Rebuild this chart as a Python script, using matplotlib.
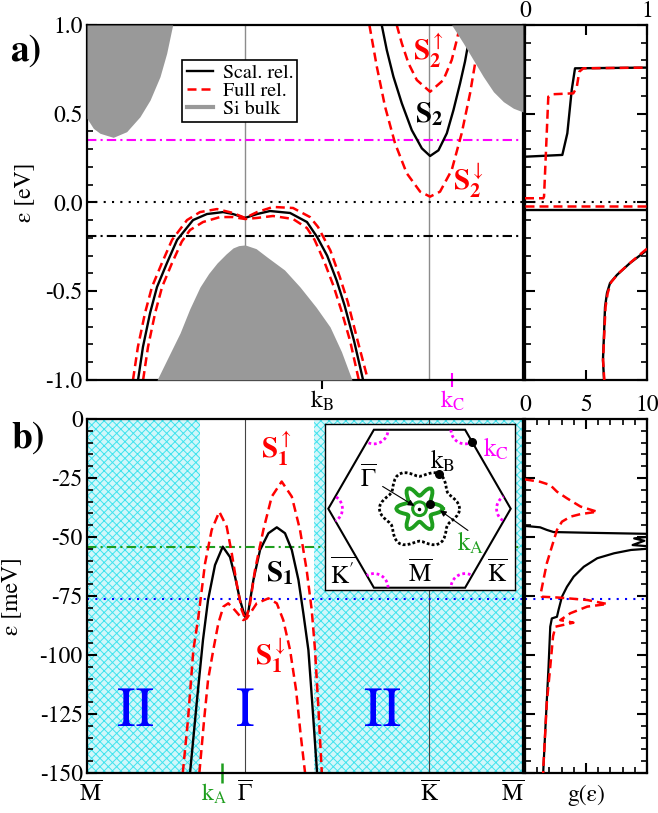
import numpy as np
import matplotlib
matplotlib.use('Agg')
import matplotlib.pyplot as plt
from matplotlib.patches import Polygon, Circle
from matplotlib.lines import Line2D
from matplotlib.ticker import MultipleLocator, FuncFormatter
from matplotlib.transforms import ScaledTranslation

plt.rcParams['font.family'] = ['STIXGeneral', 'DejaVu Serif']
plt.rcParams['mathtext.fontset'] = 'stix'
plt.rcParams['hatch.linewidth'] = 0.7
plt.rcParams['axes.linewidth'] = 1.6

# ---------------- k path ----------------
kpath_pos = [0.0, 1.0, 2.166, 2.759]
kpath_lab = [r'$\overline{\mathrm{M}}$', r'$\overline{\Gamma}$',
             r'$\overline{\mathrm{K}}$', r'$\overline{\mathrm{M}}$']
kA_pos, kB_pos, kC_pos = 0.854, 1.487, 2.31

# ---------------- panel a : bands (eV) ----------------
xa_vb_s = [0.323, 0.354, 0.399, 0.443, 0.506, 0.570, 0.671, 0.759, 0.861, 0.924, 1.0,
           1.076, 1.158, 1.285, 1.392, 1.456, 1.52, 1.58, 1.63, 1.69, 1.747]
ya_vb_s = [-1.0, -0.814, -0.623, -0.476, -0.341, -0.211, -0.099, -0.065, -0.054, -0.065, -0.087,
           -0.065, -0.048, -0.059, -0.110, -0.194, -0.30, -0.44, -0.58, -0.78, -1.0]
xa_vb_up = [0.291, 0.322, 0.367, 0.411, 0.474, 0.538, 0.633, 0.715, 0.823, 0.924, 1.0,
            1.076, 1.177, 1.304, 1.411, 1.462, 1.54, 1.60, 1.65, 1.71, 1.778]
ya_vb_up = [-1.0, -0.814, -0.623, -0.476, -0.341, -0.211, -0.099, -0.054, -0.037, -0.059, -0.087,
            -0.054, -0.025, -0.031, -0.082, -0.138, -0.27, -0.42, -0.56, -0.77, -1.0]
xa_vb_dn = [0.355, 0.386, 0.431, 0.475, 0.538, 0.600, 0.652, 0.734, 0.842, 0.924, 1.0,
            1.076, 1.177, 1.304, 1.392, 1.44, 1.50, 1.56, 1.61, 1.665, 1.72]
ya_vb_dn = [-1.0, -0.814, -0.623, -0.476, -0.341, -0.22, -0.155, -0.110, -0.082, -0.082, -0.093,
            -0.087, -0.076, -0.093, -0.144, -0.21, -0.33, -0.47, -0.61, -0.78, -1.0]

xa_s2 = [1.865, 1.897, 1.939, 1.992, 2.055, 2.119, 2.171, 2.224, 2.277, 2.319, 2.361, 2.392, 2.413, 2.43]
ya_s2 = [1.0, 0.859, 0.709, 0.559, 0.408, 0.305, 0.262, 0.294, 0.390, 0.521, 0.672, 0.794, 0.897, 1.0]
xa_s2up = [1.960, 1.992, 2.034, 2.087, 2.171, 2.255, 2.308, 2.340, 2.361]
ya_s2up = [1.0, 0.897, 0.785, 0.690, 0.624, 0.690, 0.803, 0.915, 1.0]
xa_s2dn = [1.787, 1.834, 1.886, 1.949, 2.023, 2.108, 2.171, 2.234, 2.308, 2.371, 2.424, 2.456, 2.48]
ya_s2dn = [1.0, 0.765, 0.540, 0.334, 0.165, 0.061, 0.033, 0.061, 0.183, 0.390, 0.615, 0.784, 0.92]

# Si bulk projected bands
xa_gc1 = [0.0, 0.040, 0.082, 0.166, 0.251, 0.335, 0.399, 0.462, 0.504, 0.542]
ya_gc1 = [0.474, 0.418, 0.390, 0.367, 0.399, 0.483, 0.577, 0.709, 0.840, 1.0]
xa_gc2 = [2.308, 2.382, 2.445, 2.508, 2.572, 2.635, 2.698, 2.759]
ya_gc2 = [1.0, 0.897, 0.803, 0.709, 0.624, 0.568, 0.531, 0.51]
xa_gv = [0.443, 0.52, 0.589, 0.65, 0.715, 0.77, 0.823, 0.88, 0.924, 0.96, 1.0,
         1.07, 1.139, 1.25, 1.348, 1.45, 1.538, 1.61, 1.677]
ya_gv = [-1.0, -0.86, -0.735, -0.60, -0.476, -0.40, -0.341, -0.29, -0.256, -0.243, -0.239,
         -0.26, -0.307, -0.38, -0.476, -0.59, -0.701, -0.84, -1.0]

ea_magenta, ea_zero, ea_dashdot = 0.352, 0.0, -0.189

# panel a DOS
da_s_cb_g = [0, 0.306, 0.347, 0.383, 0.410, 1.0]
da_s_cb_e = [0.258, 0.268, 0.390, 0.634, 0.756, 0.760]
da_f_cb_g = [0, 0.150, 0.156, 0.191, 0.232, 0.396, 0.424, 0.445, 0.478, 1.0]
da_f_cb_e = [0.024, 0.024, 0.033, 0.596, 0.610, 0.615, 0.649, 0.737, 0.756, 0.760]
da_s_vbm_g = [0, 1.0]
da_s_vbm_e = [-0.042, -0.042]
da_f_vbm_g = [0, 1.0]
da_f_vbm_e = [-0.022, -0.022]
da_s_vb_g = [1.0, 0.861, 0.754, 0.697, 0.672, 0.656, 0.648, 0.639, 0.648]
da_s_vb_e = [-0.268, -0.341, -0.408, -0.454, -0.51, -0.589, -0.735, -0.887, -1.0]
da_f_vb_g = [1.0, 0.87, 0.765, 0.705, 0.678, 0.66, 0.65, 0.64, 0.65]
da_f_vb_e = [-0.26, -0.335, -0.40, -0.45, -0.51, -0.589, -0.735, -0.887, -1.0]

# ---------------- panel b : bands (meV) ----------------
xb_s1 = [0.652, 0.696, 0.734, 0.766, 0.810, 0.859, 0.905, 0.937, 0.968, 1.0, 1.021, 1.053,
         1.095, 1.148, 1.201, 1.253, 1.296, 1.338, 1.369, 1.401, 1.424, 1.456]
yb_s1 = [-150, -119.1, -93.6, -76.7, -61.9, -54.1, -58.5, -66.9, -76.7, -83.8, -81.6, -68.2,
         -55.5, -48.4, -45.9, -48.4, -55.5, -68.2, -82.3, -97.9, -119.1, -150]
xb_s1up = [0.606, 0.639, 0.673, 0.705, 0.747, 0.789, 0.837, 0.884, 0.916, 0.947, 0.979, 1.004,
           1.032, 1.063, 1.116, 1.169, 1.232, 1.296, 1.348, 1.390, 1.422, 1.443, 1.465, 1.486]
yb_s1up = [-150, -127.5, -97.9, -83.8, -61.2, -47.0, -39.3, -45.6, -56.9, -69.6, -80.9, -85.2,
           -78.1, -64.0, -47.0, -32.9, -26.5, -32.9, -47.0, -64.0, -80.9, -97.9, -123.3, -150]
xb_s1dn = [0.711, 0.741, 0.766, 0.799, 0.831, 0.863, 0.894, 0.937, 0.989, 1.011, 1.074, 1.148,
           1.201, 1.242, 1.285, 1.323, 1.351, 1.380]
yb_s1dn = [-150, -127.5, -110.6, -97.9, -86.6, -79.5, -78.1, -81.1, -85.2, -84.5, -78.1, -76.0,
           -78.1, -85.2, -97.9, -114.8, -133.1, -150]
region_II = [(0.0, 0.715), (1.438, 2.759)]
eb_green, eb_blue = -54.2, -76.3

# panel b DOS
db_s_g = [0, 1.24, 1.79, 2.34, 5.10, 10.5, 10.5, 8.95, 9.78, 8.82, 10.5, 10.5, 8.68, 7.30, 5.92,
          4.82, 3.99, 3.44, 3.03, 2.75, 2.62, 2.20, 2.07, 1.93, 1.65, 1.49]
db_s_e = [-45.3, -45.9, -47.0, -47.9, -48.2, -48.7, -49.6, -50.6, -51.6, -53.4, -54.1, -54.8, -55.5,
          -56.9, -59.0, -62.6, -66.8, -71.1, -75.3, -80.9, -83.8, -84.5, -88.0, -104.9, -133.2, -150]
db_f_g = [0, 1.24, 2.07, 2.62, 3.44, 4.55, 5.92, 4.55, 3.72, 3.03, 2.62, 2.20, 1.79, 1.51, 1.29,
          1.38, 2.89, 5.10, 6.75, 5.10, 3.72, 2.89, 3.97, 2.5, 2.3, 2.07, 1.79, 1.51, 1.49]
db_f_e = [-25.6, -26.6, -28.0, -30.8, -33.6, -37.1, -39.3, -40.3, -41.4, -43.5, -47.0, -54.1, -61.1,
          -68.2, -73.9, -75.3, -75.7, -76.7, -78.4, -79.5, -82.3, -85.2, -86.3, -88, -92, -105, -120,
          -147, -150]

# ---------------- inset (surface BZ) ----------------
hex_R = 1.0
kb_r_sector = [0.44, 0.435, 0.42, 0.40, 0.38, 0.362, 0.355]     # 0..30 deg, step 5
ka_r_sector = [0.255, 0.245, 0.22, 0.19, 0.165, 0.148, 0.142]   # 0..30 deg, step 5
ka_circle_r = 0.075
kc_arc_r = 0.155
dot_kA = (0.11, 0.055)
dot_kB = (0.219, 0.376)
dot_kC = (0.574, 0.731)

# ---------------- colours ----------------
RED = '#ff0000'
MAG = '#ff00ff'
GRN = '#1e9e1e'
BLU = '#0000ff'
CYN = '#3fe3ee'
CYN_BG = '#d2f7fa'
GRAY = '#999999'

W, H = 658, 813
fig = plt.figure(figsize=(W / 100, H / 100), dpi=100)


def frect(l, t, r, b):
    return [l / W, 1 - b / H, (r - l) / W, (b - t) / H]


ax_a = fig.add_axes(frect(87, 25, 523, 380))
ax_da = fig.add_axes(frect(525, 25, 647, 380))
ax_b = fig.add_axes(frect(87, 419, 523, 773))
ax_db = fig.add_axes(frect(525, 419, 647, 773))

TFS = 17
dash_red = (0, (3.6, 2.0))
dashdot = (0, (4.5, 2.0, 1.0, 2.0))
dotted = (0, (1, 3))

fmt1 = FuncFormatter(lambda v, p: '0.0' if abs(v) < 1e-9 else f'{v:.1f}')
fmt0 = FuncFormatter(lambda v, p: '0' if abs(v) < 1e-9 else f'{v:.0f}')

# ===== panel a main =====
ax = ax_a
ax.set_xlim(kpath_pos[0], kpath_pos[-1])
ax.set_ylim(-1, 1)
for xv in kpath_pos[1:3]:
    ax.axvline(xv, color='#8c8c8c', lw=1.0, zorder=1)
ax.axhline(ea_magenta, color=MAG, lw=1.5, ls=dashdot, zorder=1)
ax.axhline(ea_zero, color='k', lw=1.5, ls=dotted, zorder=1)
ax.axhline(ea_dashdot, color='k', lw=1.5, ls=dashdot, zorder=1)
ax.plot(xa_vb_s, ya_vb_s, color='k', lw=1.7, zorder=2)
ax.plot(xa_vb_up, ya_vb_up, color=RED, lw=1.8, ls=dash_red, zorder=2)
ax.plot(xa_vb_dn, ya_vb_dn, color=RED, lw=1.8, ls=dash_red, zorder=2)
ax.plot(xa_s2, ya_s2, color='k', lw=1.7, zorder=2)
ax.plot(xa_s2up, ya_s2up, color=RED, lw=1.8, ls=dash_red, zorder=2)
ax.plot(xa_s2dn, ya_s2dn, color=RED, lw=1.8, ls=dash_red, zorder=2)
ax.fill_between(xa_gc1, ya_gc1, 1.0, color=GRAY, lw=0, zorder=3)
ax.fill_between(xa_gc2, ya_gc2, 1.0, color=GRAY, lw=0, zorder=3)
ax.fill_between(xa_gv, -1.0, ya_gv, color=GRAY, lw=0, zorder=3)

ax.yaxis.set_major_locator(MultipleLocator(0.5))
ax.yaxis.set_minor_locator(MultipleLocator(0.1))
ax.yaxis.set_major_formatter(fmt1)
ax.tick_params(axis='y', which='major', direction='in', length=7, width=1.5, labelsize=TFS, pad=3)
ax.tick_params(axis='y', which='minor', direction='in', length=4, width=1.2)
ax.set_xticks([kB_pos, kC_pos])
ax.set_xticklabels([r'$\mathrm{k_B}$', r'$\mathrm{k_C}$'])
ax.tick_params(axis='x', which='major', direction='inout', length=13, width=1.5, labelsize=TFS, pad=0)
xt = ax.xaxis.get_major_ticks()
xt[1].tick1line.set_markeredgecolor(MAG)
xt[1].tick1line.set_markersize(10)
ax.get_xticklabels()[1].set_color(MAG)
ax.set_ylabel('ε [eV]', fontsize=TFS)
ax.yaxis.set_label_coords(-0.118, 0.53)

SFS = 21
ax.text(2.158, 0.855, r'$\mathbf{S}_\mathbf{2}^{\uparrow}$', color=RED, fontsize=SFS,
        ha='center', va='center', zorder=5)
ax.text(2.165, 0.50, r'$\mathbf{S}_\mathbf{2}$', color='k', fontsize=SFS,
        ha='center', va='center', zorder=5)
ax.text(2.411, 0.125, r'$\mathbf{S}_\mathbf{2}^{\downarrow}$', color=RED, fontsize=SFS,
        ha='center', va='center', zorder=5)

handles = [Line2D([], [], color='k', lw=1.7),
           Line2D([], [], color=RED, lw=1.8, ls=dash_red),
           Line2D([], [], color=GRAY, lw=3)]
leg = ax.legend(handles, ['Scal. rel.', 'Full rel.', 'Si bulk'], loc='upper left',
                bbox_to_anchor=(0.219, 0.901), fontsize=14.5, frameon=True, fancybox=False,
                edgecolor='k', framealpha=1, handlelength=1.3, handletextpad=0.5,
                borderpad=0.2, labelspacing=0.0, borderaxespad=0)
leg.get_frame().set_linewidth(1.2)
leg.set_zorder(6)

# ===== panel a DOS =====
ax = ax_da
ax.set_xlim(0, 1)
ax.set_ylim(-1, 1)
ax.axhline(ea_zero, color='k', lw=1.5, ls=dotted, zorder=1)
ax.plot(da_s_cb_g, da_s_cb_e, color='k', lw=1.7, zorder=2)
ax.plot(da_f_cb_g, da_f_cb_e, color=RED, lw=1.8, ls=dash_red, zorder=3)
ax.plot(da_s_vbm_g, da_s_vbm_e, color='k', lw=1.7, zorder=2)
ax.plot(da_f_vbm_g, da_f_vbm_e, color=RED, lw=1.8, ls=dash_red, zorder=3)
ax.plot(da_s_vb_g, da_s_vb_e, color='k', lw=1.7, zorder=2)
ax.plot(da_f_vb_g, da_f_vb_e, color=RED, lw=1.8, ls=dash_red, zorder=3)
ax.yaxis.set_major_locator(MultipleLocator(0.5))
ax.yaxis.set_minor_locator(MultipleLocator(0.1))
ax.set_xticks([0, 0.5, 1])
ax.set_xticklabels(['0', '', '1'])
ax.tick_params(axis='both', which='major', direction='in', length=7, width=1.5,
               left=True, right=True, top=True, bottom=True,
               labelleft=False, labelbottom=False, labeltop=True, labelsize=TFS, pad=2)
ax.tick_params(axis='y', which='minor', direction='in', length=4, width=1.2, left=True, right=True)

# ===== panel b main =====
ax = ax_b
ax.set_xlim(kpath_pos[0], kpath_pos[-1])
ax.set_ylim(-150, 0)
for (x0, x1) in region_II:
    ax.axvspan(x0, x1, facecolor=CYN_BG, edgecolor=CYN, hatch='xxxx', lw=0, zorder=0)
for xv in kpath_pos[1:3]:
    ax.axvline(xv, color='#444444', lw=0.8, zorder=1)
ax.axhline(eb_green, color=GRN, lw=1.5, ls=dashdot, zorder=1)
ax.axhline(eb_blue, color=BLU, lw=1.5, ls=dotted, zorder=1)
ax.plot(xb_s1, yb_s1, color='k', lw=1.7, zorder=2)
ax.plot(xb_s1up, yb_s1up, color=RED, lw=1.8, ls=dash_red, zorder=2)
ax.plot(xb_s1dn, yb_s1dn, color=RED, lw=1.8, ls=dash_red, zorder=2)
ax.text(1.196, -12.5, r'$\mathbf{S}_\mathbf{1}^{\uparrow}$', color=RED, fontsize=SFS, ha='center', va='center')
ax.text(1.222, -65.5, r'$\mathbf{S}_\mathbf{1}$', color='k', fontsize=SFS, ha='center', va='center')
ax.text(1.158, -100.5, r'$\mathbf{S}_\mathbf{1}^{\downarrow}$', color=RED, fontsize=SFS, ha='center', va='center')
for xx, lab in [(0.31, 'II'), (1.0, 'I'), (1.867, 'II')]:
    ax.text(xx, -124.5, lab, color=BLU, fontsize=40, ha='center', va='center')

ax.yaxis.set_major_locator(MultipleLocator(25))
ax.yaxis.set_minor_locator(MultipleLocator(5))
ax.yaxis.set_major_formatter(fmt0)
ax.tick_params(axis='y', which='major', direction='in', length=7, width=1.5, labelsize=TFS, pad=3)
ax.tick_params(axis='y', which='minor', direction='in', length=4, width=1.2)
xticks_b = [kpath_pos[0], kA_pos, kpath_pos[1], kpath_pos[2], kpath_pos[3]]
xlabs_b = [kpath_lab[0], r'$\mathrm{k_A}$', kpath_lab[1], kpath_lab[2], kpath_lab[3]]
ax.set_xticks(xticks_b)
ax.set_xticklabels(xlabs_b)
ax.tick_params(axis='x', which='major', direction='inout', length=0, width=1.5, labelsize=TFS, pad=6)
tks = ax.xaxis.get_major_ticks()
tks[1].tick1line.set_markersize(15)
tks[1].tick1line.set_markeredgecolor(GRN)
tks[1].tick1line.set_markeredgewidth(1.8)
labs = ax.get_xticklabels()
labs[1].set_color(GRN)
offs = [4, -8, 0, 0, -10]
for lab, o in zip(labs, offs):
    lab.set_transform(lab.get_transform() + ScaledTranslation(o / 100, 0, fig.dpi_scale_trans))
ax.set_ylabel('ε [meV]', fontsize=TFS)
ax.yaxis.set_label_coords(-0.148, 0.50)

# ===== panel b DOS =====
ax = ax_db
ax.set_xlim(0, 10)
ax.set_ylim(-150, 0)
ax.axhline(eb_blue, color=BLU, lw=1.5, ls=dotted, zorder=1)
ax.plot(db_s_g, db_s_e, color='k', lw=1.6, zorder=2)
ax.plot(db_f_g, db_f_e, color=RED, lw=1.8, ls=dash_red, zorder=3)
ax.xaxis.set_major_locator(MultipleLocator(5))
ax.xaxis.set_minor_locator(MultipleLocator(1))
ax.xaxis.set_major_formatter(fmt0)
ax.yaxis.set_major_locator(MultipleLocator(25))
ax.yaxis.set_minor_locator(MultipleLocator(5))
ax.tick_params(axis='both', which='major', direction='in', length=7, width=1.5,
               left=True, right=True, top=True, bottom=True,
               labelleft=False, labelbottom=False, labeltop=True, labelsize=TFS, pad=2)
ax.tick_params(axis='both', which='minor', direction='in', length=4, width=1.2,
               left=True, right=True, top=True, bottom=True)
ax.set_xlabel('g(ε)', fontsize=TFS, labelpad=5)

# ===== inset =====
ax_in = fig.add_axes(frect(325, 424, 515, 590))
ax_in.set_xlim(-1.036, 1.047)
ax_in.set_ylim(-0.891, 0.929)
ax_in.set_xticks([])
ax_in.set_yticks([])
for s in ax_in.spines.values():
    s.set_linewidth(1.0)
ax_in.set_facecolor('white')
ax_in.set_zorder(5)

ang_v = np.deg2rad(np.arange(6) * 60)
verts = np.column_stack([hex_R * np.cos(ang_v), hex_R * np.sin(ang_v)])
hexa = Polygon(verts, closed=True, fill=False, ec='k', lw=1.5, zorder=2)
ax_in.add_patch(hexa)
for vx, vy in verts:
    c = Circle((vx, vy), kc_arc_r, fill=False, ec=MAG, lw=2.0, ls=(0, (1, 1)), zorder=2)
    ax_in.add_patch(c)
    c.set_clip_path(hexa)


def hex_contour(r_sector):
    half = list(r_sector) + list(r_sector[-2::-1])      # 0..60 deg
    one = half[:-1]
    r = np.array(one * 6 + [one[0]])
    th = np.deg2rad(np.arange(len(r)) * 5)
    return r * np.cos(th), r * np.sin(th)


xk, yk = hex_contour(kb_r_sector)
ax_in.plot(xk, yk, color='k', lw=2.0, ls=(0, (1, 0.8)), zorder=3)
xs, ys = hex_contour(ka_r_sector)
ax_in.plot(xs, ys, color=GRN, lw=2.8, zorder=3)
ax_in.add_patch(Circle((0, 0), ka_circle_r, fill=False, ec=GRN, lw=2.2, zorder=3))
ax_in.plot([0], [0], 'o', color='k', ms=1.5, zorder=4)
for d in (dot_kA, dot_kB, dot_kC):
    ax_in.plot([d[0]], [d[1]], 'o', color='k', ms=5.5, zorder=4)
ax_in.annotate('', xy=(-0.03, 0.015), xytext=(-0.43, 0.26),
               arrowprops=dict(arrowstyle='-|>', color='k', lw=0.8, mutation_scale=9), zorder=4)
ax_in.annotate('', xy=(0.2, 0.0), xytext=(0.556, -0.256),
               arrowprops=dict(arrowstyle='-|>', color='k', lw=0.8, mutation_scale=9), zorder=4)
IFS = 18
ax_in.text(-0.56, 0.33, r'$\overline{\Gamma}$', fontsize=IFS, ha='center', va='center')
ax_in.text(0.25, 0.52, r'$\mathrm{k_B}$', fontsize=IFS, ha='center', va='center')
ax_in.text(0.84, 0.655, r'$\mathrm{k_C}$', fontsize=IFS, ha='center', va='center', color=MAG)
ax_in.text(0.56, -0.38, r'$\mathrm{k_A}$', fontsize=IFS, ha='center', va='center', color=GRN)
ax_in.text(-0.84, -0.71, r"$\overline{\mathrm{K}'}$", fontsize=IFS, ha='center', va='center')
ax_in.text(0.005, -0.71, r'$\overline{\mathrm{M}}$', fontsize=IFS, ha='center', va='center')
ax_in.text(0.848, -0.71, r'$\overline{\mathrm{K}}$', fontsize=IFS, ha='center', va='center')

# panel labels
fig.text(26 / W, 1 - 52 / H, 'a)', fontsize=27, fontweight='bold', ha='center', va='center')
fig.text(28 / W, 1 - 439 / H, 'b)', fontsize=27, fontweight='bold', ha='center', va='center')

fig.savefig('out.png', dpi=100)
